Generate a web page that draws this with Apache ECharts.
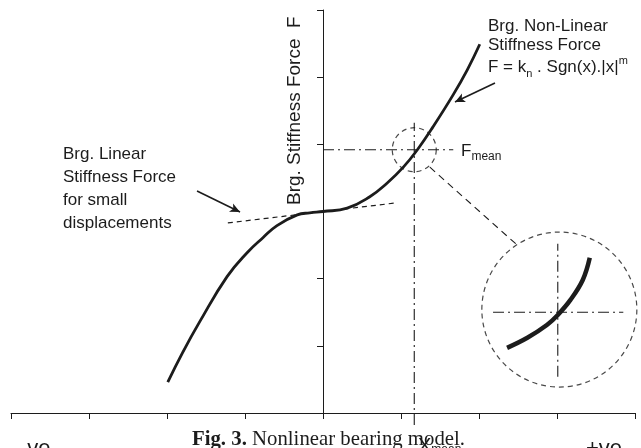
<!DOCTYPE html>
<html><head><meta charset="utf-8">
<script src="https://cdn.jsdelivr.net/npm/echarts@6/dist/echarts.min.js"></script>
<style>html,body{margin:0;padding:0;background:#fff}#c{width:641px;height:448px}</style>
</head><body><div id="c"></div><script>
// ---------------- data ----------------
const xTicks = [-4, -3, -2, -1, 0, 1, 2, 3, 4];
const yTicks = [0, 1, 2, 3, 4, 5, 6];
// nonlinear stiffness curve
const curveX = [-1.99, -1.80, -1.58, -1.23, -0.97, -0.77, -0.59, -0.33, -0.17, 0.00, 0.31, 0.60, 0.82, 1.03, 1.21, 1.41, 1.67, 1.85, 2.01];
const curveY = [0.46, 0.90, 1.36, 2.03, 2.39, 2.61, 2.79, 2.95, 2.98, 3.00, 3.05, 3.22, 3.42, 3.66, 3.92, 4.26, 4.74, 5.11, 5.49];
// linear stiffness tangent
const linearX = [-1.22, 0.95];
const linearY = [2.83, 3.13];
// mean operating point
const xMean = 1.17;
const fMean = 3.92;
const fMeanLineX = [0, 1.67];
const xMeanLineY = [-0.18, 4.32];
// magnified inset (zoom of the curve near the mean point)
const insetCenter = [3.03, 1.54];
const insetX = [2.36, 2.62, 2.87, 3.01, 3.17, 3.33, 3.42];
const insetY = [0.97, 1.12, 1.31, 1.46, 1.68, 1.98, 2.31];
const insetHX = [2.18, 3.85];
const insetVY = [0.54, 2.52];
// connector from small circle to inset
const connX = [1.37, 2.50];
const connY = [3.66, 2.49];
// annotation arrows [fromX, fromY, toX, toY]
const arrowLinear = [-1.615, 3.305, -1.064, 2.992];
const arrowNonLin = [2.205, 4.913, 1.692, 4.630];
// texts
const yName = 'Brg. Stiffness Force  F';
const leftLabel = ['Brg. Linear', 'Stiffness Force', 'for small', 'displacements'];
const rightLabel = ['Brg. Non-Linear', 'Stiffness Force'];
const caption = ['Fig. 3.', ' Nonlinear bearing model.'];

// ---------------- chart ----------------
const INK = '#1c1c1c';
const SANS = '"Liberation Sans", Arial, sans-serif';
const SERIF = '"Liberation Serif", "Times New Roman", serif';
const pts = (xs, ys) => xs.map((x, i) => [x, ys[i]]);
const DASHDOT = [11, 4, 2, 4];

function line(data, style, extra) {
  return Object.assign({
    type: 'line', data, symbol: 'none', showSymbol: false, clip: false, silent: true,
    animation: false, lineStyle: Object.assign({ color: INK, width: 1 }, style),
    emphasis: { disabled: true }
  }, extra || {});
}

const mctx = document.createElement('canvas').getContext('2d');
function run(x0, base, parts) {
  const els = []; let x = x0;
  parts.forEach(p => {
    const fam = p.f || SANS;
    const font = (p.w || 'normal') + ' ' + p.s + 'px ' + fam;
    mctx.font = font;
    const sx = p.sx || 1;
    const w = mctx.measureText(p.t).width * sx;
    const k = fam === SERIF ? 0.3375 : 0.3465;
    els.push({ type: 'text', x: x, y: base + (p.dy || 0) - k * p.s, scaleX: sx, silent: true,
      style: { text: p.t, font: font, fill: INK, textAlign: 'left', textVerticalAlign: 'middle' } });
    x += w;
  });
  return els;
}

const graphics = [];
// y-axis name (rotated)
graphics.push({ type: 'text', x: 294.5, y: 205, rotation: Math.PI / 2, silent: true,
  style: { text: yName, font: 'normal 19px ' + SANS, fill: INK, textAlign: 'left', textVerticalAlign: 'middle' } });
// left label block
const leftBase = [160, 183, 206, 229];
leftLabel.forEach((t, i) => graphics.push(...run(63, leftBase[i], [{ t, s: 17 }])));
// right label block
graphics.push(...run(488, 32, [{ t: rightLabel[0], s: 17 }]));
graphics.push(...run(488, 51, [{ t: rightLabel[1], s: 17 }]));
graphics.push(...run(488, 73, [
  { t: 'F = k', s: 17 }, { t: 'n', s: 11, dy: 5 }, { t: ' . Sgn(x).|x|', s: 17 }, { t: 'm', s: 11, dy: -8 }
]));
// F_mean
graphics.push(...run(461, 157, [{ t: 'F', s: 17 }, { t: 'mean', s: 12, dy: 4 }]));
// -ve / +ve / X_mean
graphics.push(...run(20, 457, [{ t: '-ve', s: 22 }]));
graphics.push(...run(586, 457, [{ t: '+ve', s: 22 }]));
graphics.push(...run(418, 453, [{ t: 'X', s: 20 }, { t: 'mean', s: 12, dy: 1 }]));
// caption (condensed serif)
mctx.font = 'bold 22px ' + SERIF; const cw1 = mctx.measureText(caption[0]).width;
mctx.font = 'normal 22px ' + SERIF; const cw2 = mctx.measureText(caption[1]).width;
const csx = 273 / (cw1 + cw2);
graphics.push(...run(192, 447, [
  { t: caption[0], s: 22, w: 'bold', f: SERIF, sx: csx },
  { t: caption[1], s: 22, f: SERIF, sx: csx }
]));

const arrowML = (a) => [{ coord: [a[0], a[1]] }, { coord: [a[2], a[3]] }];

const option = {
  animation: false,
  grid: { left: 11, right: 6, top: 10, bottom: 35 },
  xAxis: {
    type: 'value', min: xTicks[0], max: xTicks[xTicks.length - 1], interval: 1,
    axisLine: { onZero: false, lineStyle: { color: INK, width: 1 } },
    axisTick: { show: true, length: 6, lineStyle: { color: INK, width: 1 } },
    axisLabel: { show: false }, splitLine: { show: false }
  },
  yAxis: {
    type: 'value', min: yTicks[0], max: yTicks[yTicks.length - 1], interval: 1,
    axisLine: { show: true, onZero: true, lineStyle: { color: INK, width: 1 } },
    axisTick: { show: true, length: 6, lineStyle: { color: INK, width: 1 } },
    axisLabel: { show: false }, splitLine: { show: false }
  },
  series: [
    line(pts(curveX, curveY), { width: 2.8 }, { smooth: 0.45, z: 5 }),
    line(pts(linearX, linearY), { width: 1.2, type: [5, 4] }, {
      markLine: {
        silent: true, symbol: ['none', 'arrow'], symbolSize: [7, 10], animation: false,
        label: { show: false }, lineStyle: { color: INK, width: 1.6, type: 'solid' },
        data: [arrowML(arrowLinear), arrowML(arrowNonLin)]
      }
    }),
    line(pts(fMeanLineX, [fMean, fMean]), { width: 1.1, type: DASHDOT }),
    line(pts([xMean, xMean], xMeanLineY), { width: 1.1, type: DASHDOT }),
    line(pts(connX, connY), { width: 1.1, type: [7, 5] }),
    line(pts(insetHX, [insetCenter[1] - 0.04, insetCenter[1] - 0.04]), { width: 1.1, type: DASHDOT }),
    line(pts([insetCenter[0] - 0.02, insetCenter[0] - 0.02], insetVY), { width: 1.1, type: DASHDOT }),
    line(pts(insetX, insetY), { width: 4.5 }, { smooth: 0.4, z: 5 }),
    {
      type: 'scatter', silent: true, animation: false, clip: false,
      data: [{ value: [xMean, fMean], symbolSize: 44 }, { value: insetCenter, symbolSize: 155 }],
      symbol: 'circle',
      itemStyle: { color: 'rgba(0,0,0,0)', borderColor: INK, borderWidth: 1.2, borderType: [5, 4] },
      emphasis: { disabled: true }
    }
  ],
  graphic: graphics
};
const chart = echarts.init(document.getElementById('c'), null, { renderer: 'canvas' });
chart.setOption(option);
</script></body></html>
